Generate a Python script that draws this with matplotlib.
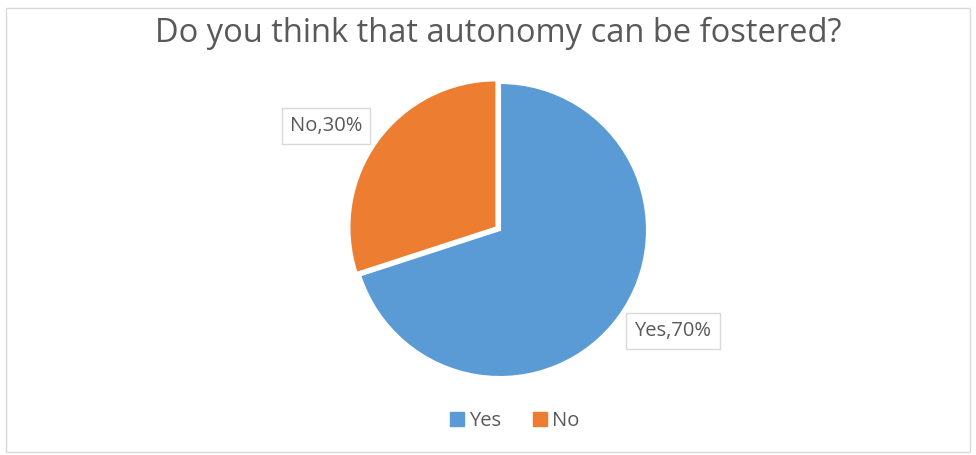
import matplotlib.pyplot as plt
from matplotlib.patches import Rectangle
from matplotlib.lines import Line2D

labels = ['Yes', 'No']
values = [70, 30]
colors = ['#5B9BD5', '#ED7D31']
explode = [0, 0.03]

W, H = 976, 455
fig = plt.figure(figsize=(W / 100, H / 100), dpi=100)
plt.rcParams['font.family'] = ['Open Sans', 'DejaVu Sans']
txt_col = '#595959'

# chart border
fig.patches.append(Rectangle((6 / W, 3 / H), 964 / W, 444 / H, transform=fig.transFigure,
                             fill=False, edgecolor='#D9D9D9', lw=1))

fig.text(498 / W, 1 - 42 / H, 'Do you think that autonomy can be fostered?', ha='center',
         va='baseline', fontsize=23.5, color=txt_col)

# pie axes: center (500, 230), radius ~147 px
r = 147
cx, cy = 500, 230
ax = fig.add_axes([(cx - r) / W, 1 - (cy + r) / H, 2 * r / W, 2 * r / H])
wedges, _ = ax.pie(values, colors=colors, startangle=90, counterclock=False,
                   explode=explode, radius=1,
                   wedgeprops=dict(edgecolor='white', linewidth=1.5))
ax.set_xlim(-1, 1)
ax.set_ylim(-1, 1)
ax.set_aspect('equal')
ax.axis('off')

# data labels
label_pos = [(673, 331), (326, 126)]
for lab, v, (x, y) in zip(labels, values, label_pos):
    fig.text(x / W, 1 - y / H, f'{lab},{v}%', ha='center', va='center', fontsize=14.5,
             color=txt_col,
             bbox=dict(boxstyle='square,pad=0.4', fc='white', ec='#D9D9D9', lw=1))

handles = [Line2D([], [], marker='s', linestyle='', markersize=9.5, color=c) for c in colors]
fig.legend(handles, labels, loc='center', bbox_to_anchor=(513 / W, 1 - 421 / H),
           ncol=2, frameon=False, fontsize=14.5, labelcolor=txt_col,
           handletextpad=0.1, columnspacing=1.4, handlelength=1.0)

fig.savefig('out.png', dpi=100)
